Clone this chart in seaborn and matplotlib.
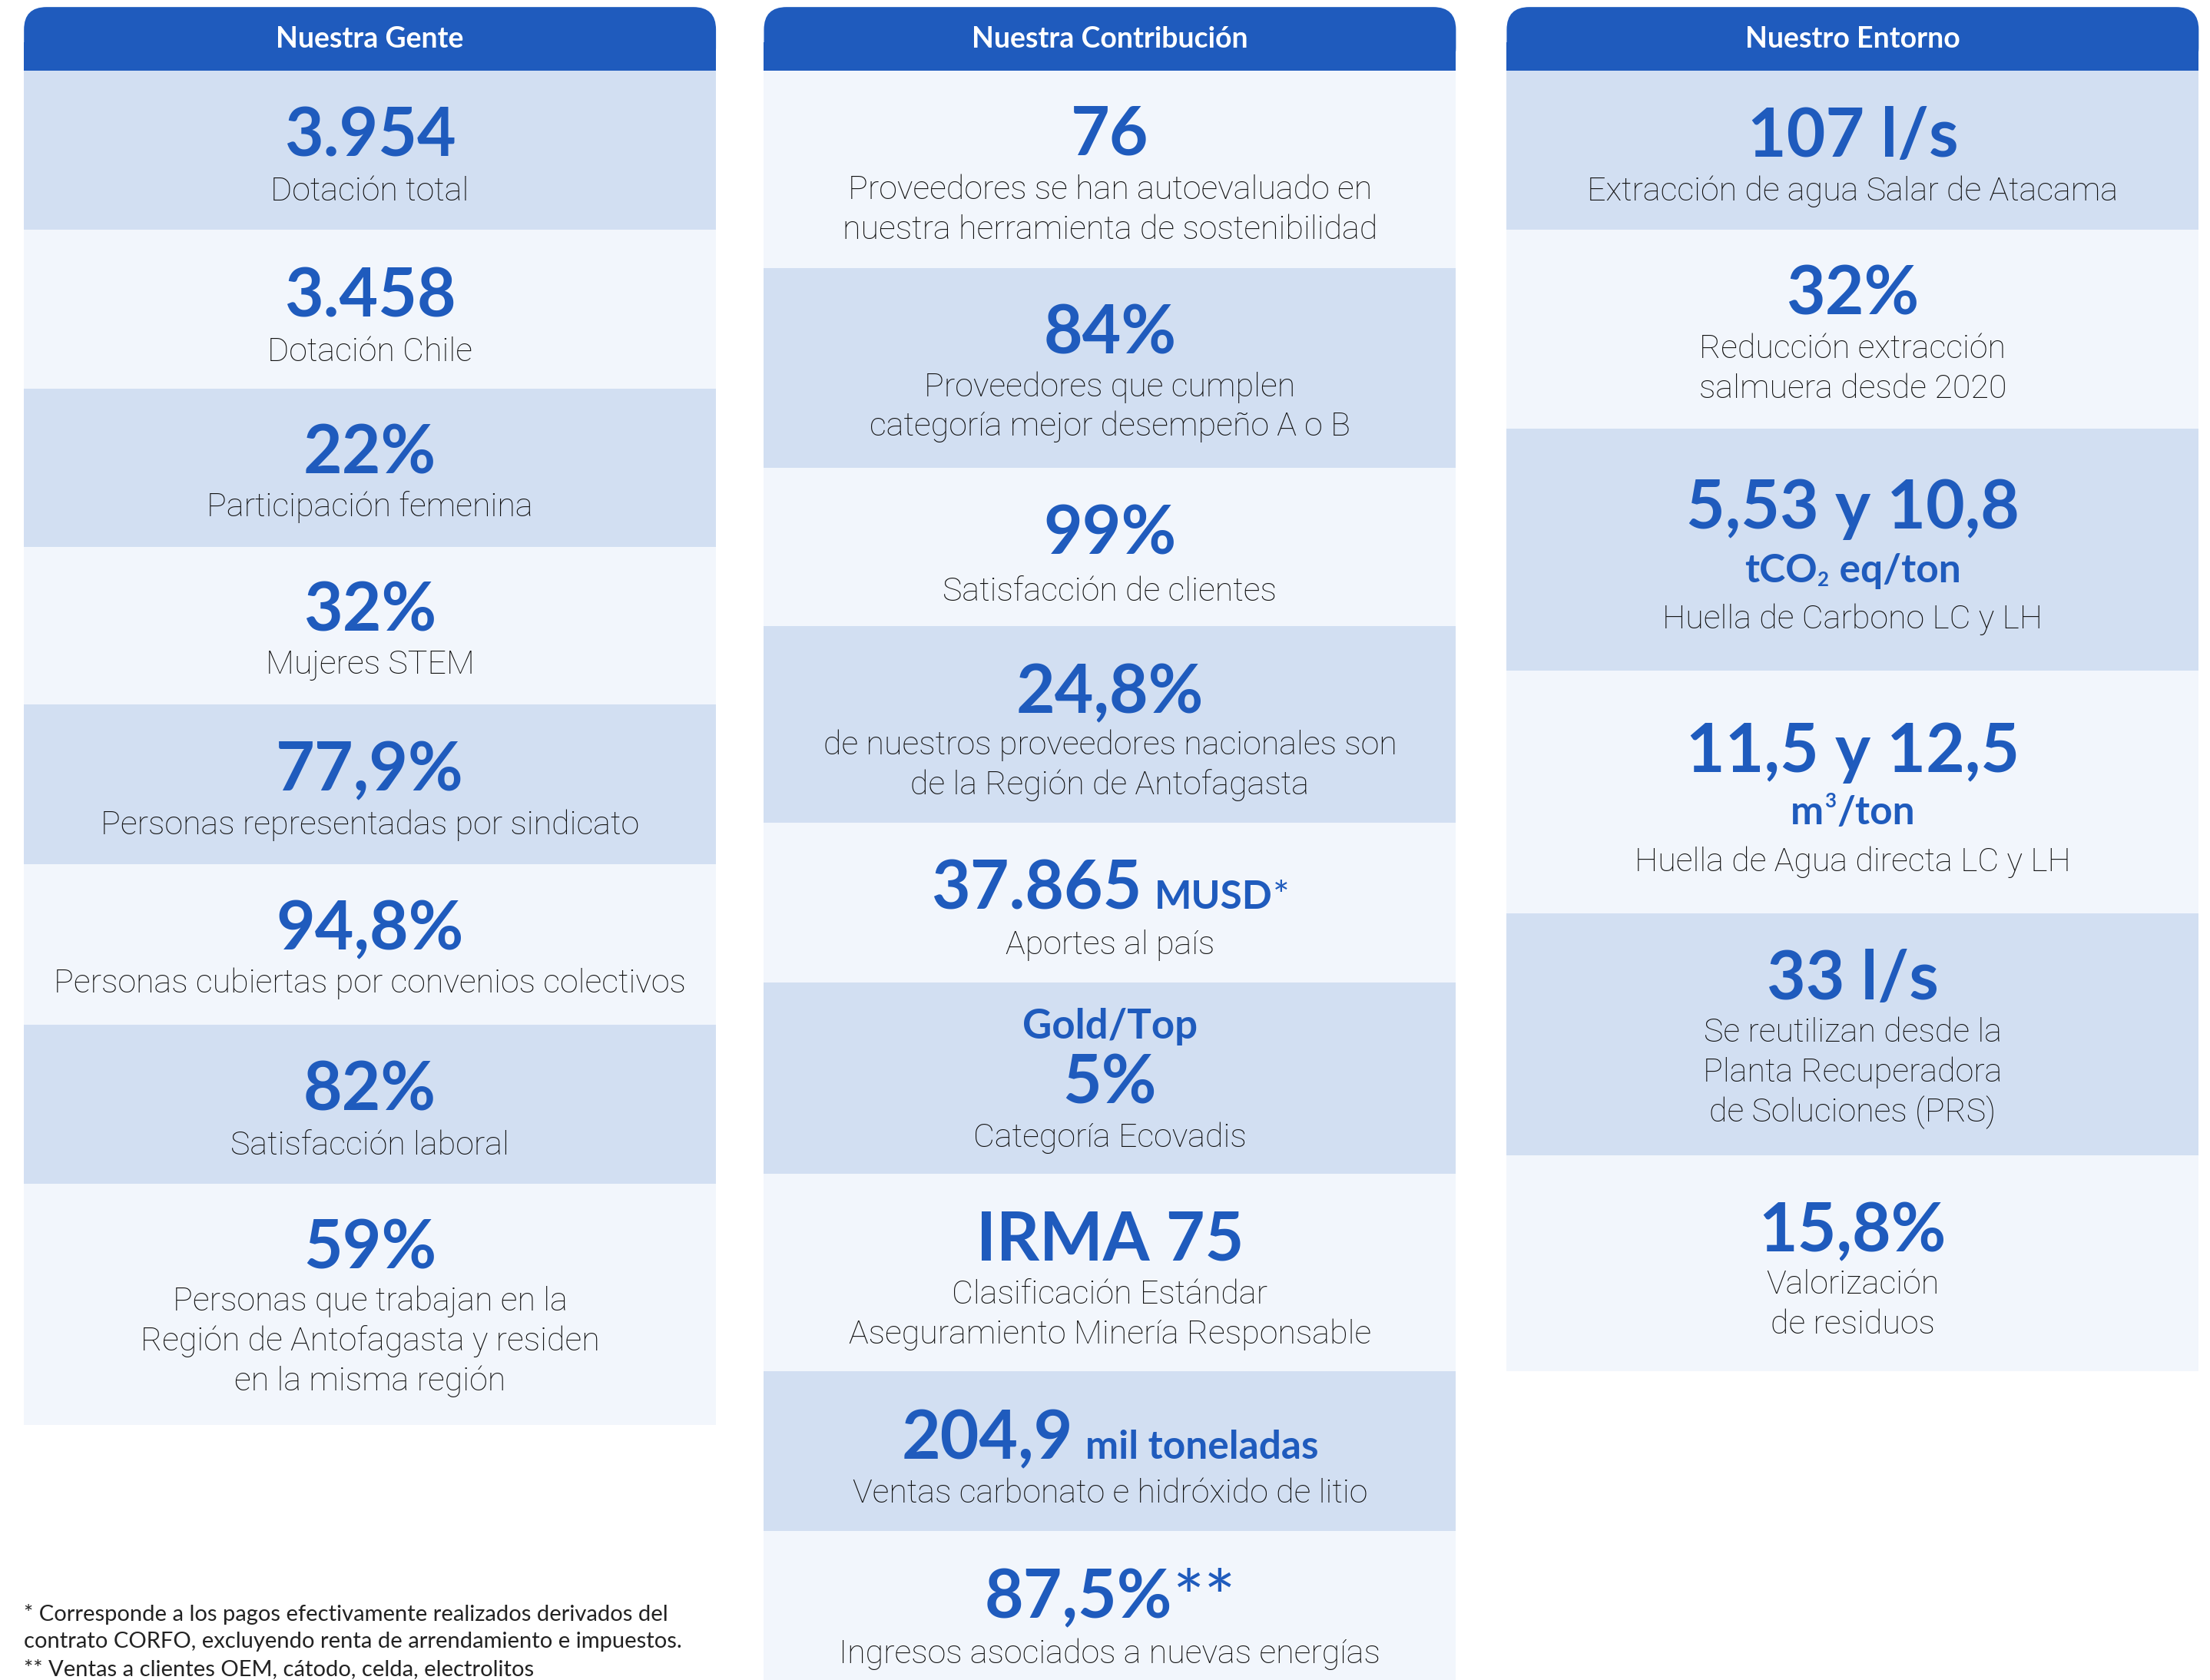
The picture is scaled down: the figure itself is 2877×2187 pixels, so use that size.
import matplotlib
matplotlib.use("Agg")
import matplotlib.pyplot as plt
from matplotlib.patches import FancyBboxPatch, Rectangle
import seaborn as sns

# ---- data -------------------------------------------------------------
headers = ["Nuestra Gente", "Nuestra Contribución", "Nuestro Entorno"]

gente_values = ["3.954", "3.458", "22%", "32%", "77,9%", "94,8%", "82%", "59%"]
gente_labels = [
    "Dotación total",
    "Dotación Chile",
    "Participación femenina",
    "Mujeres STEM",
    "Personas representadas por sindicato",
    "Personas cubiertas por convenios colectivos",
    "Satisfacción laboral",
    "Personas que trabajan en la\nRegión de Antofagasta y residen\nen la misma región",
]

contrib_prefix = ["", "", "", "", "", "Gold/Top", "", "", ""]
contrib_values = ["76", "84%", "99%", "24,8%", "37.865", "5%", "IRMA 75", "204,9", "87,5%"]
contrib_units = ["", "", "", "", "MUSD", "", "", "mil toneladas", ""]
contrib_marks = ["", "", "", "", "*", "", "", "", "**"]
contrib_labels = [
    "Proveedores se han autoevaluado en\nnuestra herramienta de sostenibilidad",
    "Proveedores que cumplen\ncategoría mejor desempeño A o B",
    "Satisfacción de clientes",
    "de nuestros proveedores nacionales son\nde la Región de Antofagasta",
    "Aportes al país",
    "Categoría Ecovadis",
    "Clasificación Estándar\nAseguramiento Minería Responsable",
    "Ventas carbonato e hidróxido de litio",
    "Ingresos asociados a nuevas energías",
]

entorno_values = ["107 l/s", "32%", "5,53 y 10,8", "11,5 y 12,5", "33 l/s", "15,8%"]
entorno_units = ["", "", "tCO|2| eq/ton", "m|3|/ton", "", ""]
entorno_labels = [
    "Extracción de agua Salar de Atacama",
    "Reducción extracción\nsalmuera desde 2020",
    "Huella de Carbono LC y LH",
    "Huella de Agua directa LC y LH",
    "Se reutilizan desde la\nPlanta Recuperadora\nde Soluciones (PRS)",
    "Valorización\nde residuos",
]

footnotes = [
    "* Corresponde a los pagos efectivamente realizados derivados del",
    "contrato CORFO, excluyendo renta de arrendamiento e impuestos.",
    "** Ventas a clientes OEM, cátodo, celda, electrolitos",
]

# ---- layout (in 1568 x 1192 canvas units) -------------------------------
W, H = 1568, 1192
col_left = [17, 542, 1069]
col_width = 491
header_top, header_bot = 5, 50
row_edges = [
    [50, 163, 276, 388, 500, 613, 727, 840, 1011],
    [50, 190, 332, 444, 584, 697, 833, 973, 1086, 1192],
    [50, 163, 304, 476, 648, 820, 973],
]
first_dark = [True, False, True]
num_base = [
    [111, 225, 336, 448, 561, 674, 788, 900],
    [110, 251, 393, 506, 645, 783, 894, 1035, 1148],
    [111, 223, 375, 548, 709, 888],
]
unit_base3 = [None, None, 413, 585, None, None]
prefix_base2 = 737
lab_base = [
    [142, 256, 366, 478, 592, 704, 819, 930],
    [141, 281, 426, 535, 677, 814, 925, 1066, 1180],
    [142, 254, 446, 618, 739, 918],
]
line_step = 28.3

BLUE = "#1F5BBD"
DARK = "#D2DFF2"
LIGHT = "#F2F6FC"
INK = "#111111"
NUM_SIZE = 63
UNIT_SIZE = 37
LAB_SIZE = 31
LAB_FONT = ["Roboto", "Lato", "DejaVu Sans"]

sns.set_theme(style="white")
plt.rcParams["font.family"] = ["Lato", "DejaVu Sans"]

fig = plt.figure(figsize=(28.77, 21.87), dpi=100)
ax = fig.add_axes([0, 0, 1, 1])
ax.set_xlim(0, W)
ax.set_ylim(H, 0)
ax.axis("off")
PX = 2877 / W
renderer = fig.canvas.get_renderer()


def draw_line(xc, y, parts):
    # parts: (text, size, weight, dy, gap_before)
    texts = []
    for s, size, weight, dy, gap in parts:
        t = ax.text(0, y + dy, s, fontsize=size, fontweight=weight, color=BLUE,
                    va="baseline", ha="left")
        texts.append((t, gap))
    widths = [t.get_window_extent(renderer).width / PX for t, _ in texts]
    total = sum(widths) + sum(g for _, g in texts[1:])
    x = xc - total / 2
    for i, ((t, gap), w) in enumerate(zip(texts, widths)):
        if i:
            x += gap
        t.set_x(x)
        x += w


def draw_label(xc, y, label):
    for k, line in enumerate(label.split("\n")):
        ax.text(xc, y + k * line_step, line, fontsize=LAB_SIZE, fontweight="light",
                family=LAB_FONT, color=INK, ha="center", va="baseline")


def unit_parts(spec):
    # "tCO|2| eq/ton" -> normal, small script, normal
    pieces = spec.split("|")
    parts = []
    for i, p in enumerate(pieces):
        if not p:
            continue
        if i % 2:
            dy = 3 if p == "2" else -12
            parts.append((p, UNIT_SIZE * 0.5, "bold", dy, 0.5))
        else:
            parts.append((p, UNIT_SIZE, "bold", 0, 0.5))
    return parts


# bands, drawn as stacked bars per column
for c, edges in enumerate(row_edges):
    xc = col_left[c] + col_width / 2
    for i in range(len(edges) - 1):
        dark = (i % 2 == 0) == first_dark[c]
        ax.bar(xc, edges[i + 1] - edges[i], bottom=edges[i], width=col_width,
               color=DARK if dark else LIGHT, linewidth=0)
    ax.add_patch(FancyBboxPatch((col_left[c], header_top), col_width, header_bot - header_top,
                                boxstyle="round,pad=0,rounding_size=16", color=BLUE, lw=0))
    ax.add_patch(Rectangle((col_left[c], 30), col_width, header_bot - 30, color=BLUE, lw=0))
    ax.text(xc, 28, headers[c], fontsize=27, fontweight="bold", color="white",
            ha="center", va="center")

centers = [l + col_width / 2 for l in col_left]

# Nuestra Gente
for i, (v, lab) in enumerate(zip(gente_values, gente_labels)):
    draw_line(centers[0], num_base[0][i], [(v, NUM_SIZE, "bold", 0, 0)])
    draw_label(centers[0], lab_base[0][i], lab)

# Nuestra Contribución
for i, (p, v, u, m, lab) in enumerate(zip(contrib_prefix, contrib_values, contrib_units,
                                          contrib_marks, contrib_labels)):
    parts = [(v, NUM_SIZE, "bold", 0, 0)]
    if u:
        parts.append((u, UNIT_SIZE, "bold", 0, 9))
    if m == "**":
        parts.append((m, 70, "normal", 4, 0))
    elif m:
        parts.append((m, UNIT_SIZE, "normal", 0, 0))
    draw_line(centers[1], num_base[1][i], parts)
    if p:
        draw_line(centers[1], prefix_base2, [(p, 38, "bold", 0, 0)])
    draw_label(centers[1], lab_base[1][i], lab)

# Nuestro Entorno
for i, (v, u, lab) in enumerate(zip(entorno_values, entorno_units, entorno_labels)):
    draw_line(centers[2], num_base[2][i], [(v, NUM_SIZE, "bold", 0, 0)])
    if u:
        draw_line(centers[2], unit_base3[i], unit_parts(u))
    draw_label(centers[2], lab_base[2][i], lab)

# footnotes
for y, note in zip([1150, 1169, 1189], footnotes):
    ax.text(17, y, note, fontsize=21, fontweight="normal", color="#222222",
            ha="left", va="baseline")

fig.savefig("out.png", dpi=100, facecolor="white")
